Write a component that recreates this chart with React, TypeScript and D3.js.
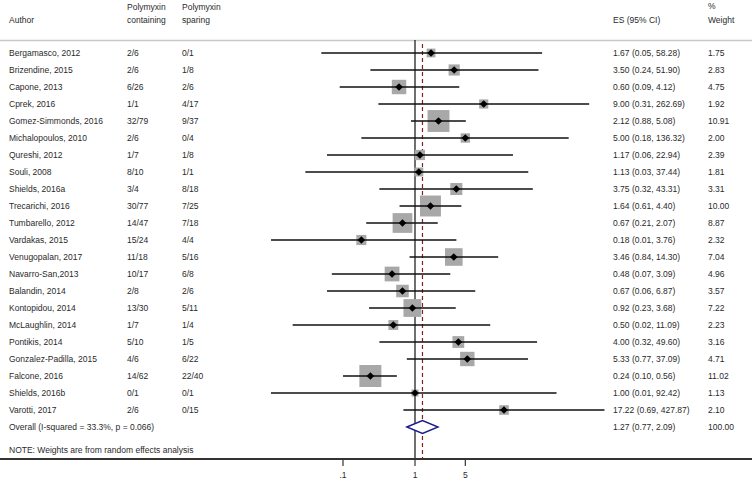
import React from "react";
import * as d3 from "d3";

const authors = [
  "Bergamasco, 2012", "Brizendine, 2015", "Capone, 2013", "Cprek, 2016",
  "Gomez-Simmonds, 2016", "Michalopoulos, 2010", "Qureshi, 2012", "Souli, 2008",
  "Shields, 2016a", "Trecarichi, 2016", "Tumbarello, 2012", "Vardakas, 2015",
  "Venugopalan, 2017", "Navarro-San,2013", "Balandin, 2014", "Kontopidou, 2014",
  "McLaughlin, 2014", "Pontikis, 2014", "Gonzalez-Padilla, 2015", "Falcone, 2016",
  "Shields, 2016b", "Varotti, 2017",
];
const containing = [
  "2/6", "2/6", "6/26", "1/1", "32/79", "2/6", "1/7", "8/10", "3/4", "30/77", "14/47",
  "15/24", "11/18", "10/17", "2/8", "13/30", "1/7", "5/10", "4/6", "14/62", "0/1", "2/6",
];
const sparing = [
  "0/1", "1/8", "2/6", "4/17", "9/37", "0/4", "1/8", "1/1", "8/18", "7/25", "7/18",
  "4/4", "5/16", "6/8", "2/6", "5/11", "1/4", "1/5", "6/22", "22/40", "0/1", "0/15",
];
const es = [
  1.67, 3.5, 0.6, 9.0, 2.12, 5.0, 1.17, 1.13, 3.75, 1.64, 0.67,
  0.18, 3.46, 0.48, 0.67, 0.92, 0.5, 4.0, 5.33, 0.24, 1.0, 17.22,
];
const lower = [
  0.05, 0.24, 0.09, 0.31, 0.88, 0.18, 0.06, 0.03, 0.32, 0.61, 0.21,
  0.01, 0.84, 0.07, 0.06, 0.23, 0.02, 0.32, 0.77, 0.1, 0.01, 0.69,
];
const upper = [
  58.28, 51.9, 4.12, 262.69, 5.08, 136.32, 22.94, 37.44, 43.31, 4.4, 2.07,
  3.76, 14.3, 3.09, 6.87, 3.68, 11.09, 49.6, 37.09, 0.56, 92.42, 427.87,
];
const weights = [
  1.75, 2.83, 4.75, 1.92, 10.91, 2.0, 2.39, 1.81, 3.31, 10.0, 8.87,
  2.32, 7.04, 4.96, 3.57, 7.22, 2.23, 3.16, 4.71, 11.02, 1.13, 2.1,
];
const overall = { es: 1.27, lower: 0.77, upper: 2.09, weight: 100.0 };
const overallLabel = "Overall  (I-squared = 33.3%, p = 0.066)";
const tickValues = [0.1, 1, 5];
const tickLabels = [".1", "1", "5"];

const W = 753;
const H = 480;
const FONT = "'Liberation Sans', Arial, sans-serif";
const TXT = "#2a2a2a";

export default function App() {
  const x = d3.scaleLog().domain([0.01, 1000]).range([271, 631]);
  const y = d3.scaleLinear().domain([0, authors.length]).range([53, 427]);
  const box = d3.scaleSqrt().domain([0, d3.max(weights) as number]).range([0, 22]);
  const f2 = d3.format(".2f");
  const axisY = 459;
  const esX = 613;
  const wX = 708;

  const txt = (tx: number, ty: number, s: string, key?: string) => (
    <text key={key} x={tx} y={ty} dominantBaseline="central">{s}</text>
  );

  return (
    <svg width={W} height={H} style={{ position: "absolute", left: 0, top: 0, background: "#fff" }}
      fontFamily={FONT} fontSize={8.5} fill={TXT}>
      {/* header */}
      {txt(9, 20, "Author")}
      {txt(127, 7, "Polymyxin")}
      {txt(127, 20, "containing")}
      {txt(182, 7, "Polymyxin")}
      {txt(182, 20, "sparing")}
      {txt(esX, 20, "ES (95% CI)")}
      {txt(wX, 6, "%")}
      {txt(wX, 20, "Weight")}
      <line x1={0} x2={752} y1={40.5} y2={40.5} stroke="#c8c8c8" strokeWidth={1.5} />

      {/* null line and overall dashed line */}
      <line x1={x(1)} x2={x(1)} y1={40} y2={axisY} stroke="#222" strokeWidth={1.3} />
      <line x1={x(overall.es)} x2={x(overall.es)} y1={44} y2={axisY} stroke="#8b1c1c"
        strokeWidth={1.2} strokeDasharray="4,3" />

      {/* studies */}
      {authors.map((a, i) => {
        const cy = y(i);
        const s = box(weights[i]);
        const cx = x(es[i]);
        const d = 3.8;
        return (
          <g key={a}>
            {txt(9, cy, a)}
            {txt(127, cy, containing[i])}
            {txt(182, cy, sparing[i])}
            {txt(esX, cy, `${f2(es[i])} (${f2(lower[i])}, ${f2(upper[i])})`)}
            {txt(wX, cy, f2(weights[i]))}
            <rect x={cx - s / 2} y={cy - s / 2} width={s} height={s} fill="#a8a8a8" />
            <line x1={x(lower[i])} x2={x(upper[i])} y1={cy} y2={cy} stroke="#111" strokeWidth={1.4} />
            <path d={`M${cx - d},${cy}L${cx},${cy - d}L${cx + d},${cy}L${cx},${cy + d}Z`} fill="#000" />
          </g>
        );
      })}

      {/* overall */}
      {txt(9, y(authors.length), overallLabel)}
      {txt(esX, y(authors.length), `${f2(overall.es)} (${f2(overall.lower)}, ${f2(overall.upper)})`)}
      {txt(wX, y(authors.length), f2(overall.weight))}
      <path
        d={`M${x(overall.lower)},${y(authors.length)}L${x(overall.es)},${y(authors.length) - 6.5}L${x(overall.upper)},${y(authors.length)}L${x(overall.es)},${y(authors.length) + 6.5}Z`}
        fill="#fff" stroke="#1c1c8a" strokeWidth={1.4} />

      {txt(9, 450, "NOTE: Weights are from random effects analysis")}

      {/* axis */}
      <line x1={0} x2={752} y1={axisY} y2={axisY} stroke="#333" strokeWidth={1.8} />
      {tickValues.map((t, i) => (
        <g key={t}>
          <line x1={x(t)} x2={x(t)} y1={axisY} y2={axisY + 7} stroke="#333" strokeWidth={1.2} />
          <text x={x(t)} y={axisY + 16} textAnchor="middle" dominantBaseline="central">{tickLabels[i]}</text>
        </g>
      ))}
    </svg>
  );
}
